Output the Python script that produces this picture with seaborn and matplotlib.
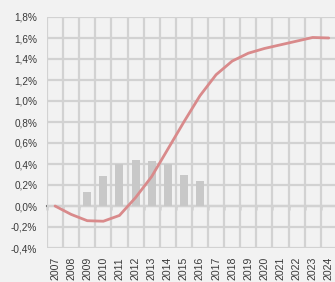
import numpy as np
import pandas as pd
import matplotlib
matplotlib.use("Agg")
import matplotlib.pyplot as plt
from matplotlib.ticker import FuncFormatter, FixedLocator
import seaborn as sns

years = [str(y) for y in range(2007, 2025)]
line_vals = [0.00, -0.08, -0.14, -0.145, -0.09, 0.08, 0.28, 0.54, 0.80, 1.05,
             1.25, 1.38, 1.455, 1.50, 1.535, 1.57, 1.605, 1.60]
bar_years = ["2009", "2010", "2011", "2012", "2013", "2014", "2015", "2016"]
bar_vals = [0.13, 0.29, 0.40, 0.44, 0.43, 0.40, 0.30, 0.24]
y_ticks = [-0.4, -0.2, 0.0, 0.2, 0.4, 0.6, 0.8, 1.0, 1.2, 1.4, 1.6, 1.8]

BG = "#f2f2f2"
GRID = "#d2d2d2"
TXT = "#3a3a3a"

sns.set_style("white")
plt.rcParams["font.family"] = ["Liberation Sans", "DejaVu Sans"]

fig = plt.figure(figsize=(3.35, 2.82), dpi=100, facecolor=BG)
ax = fig.add_axes([47 / 335, 34 / 282, 289.8 / 335, 231 / 282])
ax.set_facecolor(BG)

bars = pd.DataFrame({"year": bar_years, "val": bar_vals})
sns.barplot(data=bars, x="year", y="val", order=years, color="#c8c8c8",
            width=0.5, saturation=1, ax=ax, zorder=2)
for p in ax.patches:
    p.set_edgecolor("none")

line = pd.DataFrame({"pos": np.arange(len(years)), "val": line_vals})
sns.lineplot(data=line, x="pos", y="val", color="#d98a8b", linewidth=2.0,
             ax=ax, zorder=4)

ax.set_xlim(-0.5, len(years) - 0.5)
ax.set_ylim(y_ticks[0], y_ticks[-1])
ax.set_xticks(np.arange(len(years)))
ax.set_xticklabels(years, rotation=90, fontsize=7.6, color=TXT)
ax.xaxis.set_minor_locator(FixedLocator(np.arange(len(years) + 1) - 0.5))
ax.set_yticks(y_ticks)
ax.yaxis.set_major_formatter(FuncFormatter(lambda v, _: f"{v:.1f}%".replace(".", ",")))
ax.tick_params(axis="y", length=0, pad=7, labelsize=7.2, labelcolor=TXT)
ax.tick_params(axis="x", which="both", length=0, pad=6.5)
ax.set_xlabel("")
ax.set_ylabel("")

ax.grid(axis="y", which="major", color=GRID, linewidth=1.6, zorder=0)
ax.grid(axis="x", which="minor", color=GRID, linewidth=1.6, zorder=0)
ax.grid(axis="x", which="major", visible=False)
ax.set_axisbelow(True)
for s in ax.spines.values():
    s.set_visible(False)

# zero axis with small tick marks at category boundaries
zero_frac = (0 - y_ticks[0]) / (y_ticks[-1] - y_ticks[0])
sec = ax.secondary_xaxis(zero_frac)
sec.spines["bottom"].set_color("#7a7a7a")
sec.spines["bottom"].set_linewidth(1.5)
sec.set_xticks(np.arange(len(years) + 1) - 0.5)
sec.tick_params(axis="x", length=3, width=1, color="#7a7a7a", labelbottom=False, direction="out")
sec.set_xticklabels([])

fig.savefig("out.png", dpi=100, facecolor=BG)
